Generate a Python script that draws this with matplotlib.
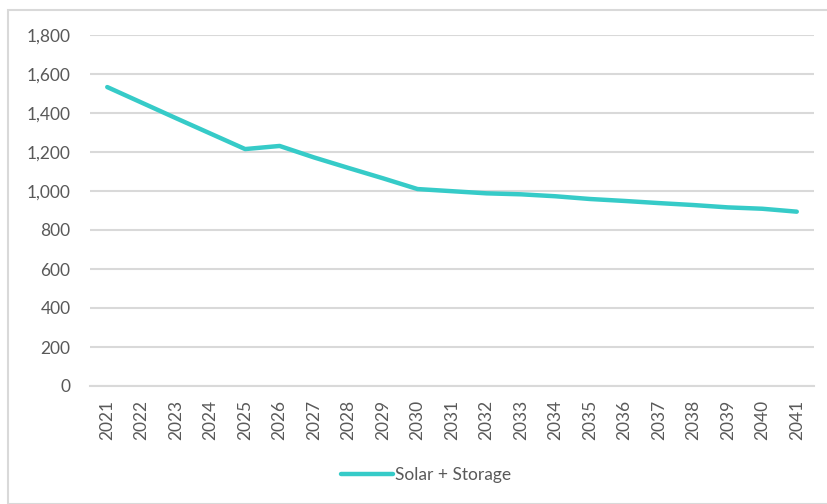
import matplotlib.pyplot as plt
from matplotlib.patches import Rectangle

years = [str(y) for y in range(2021, 2042)]
solar_storage = [1533, 1453, 1373, 1294, 1215, 1231, 1172, 1118, 1065, 1010,
                 999, 988, 983, 973, 959, 949, 938, 928, 916, 909, 894]
y_ticks = [0, 200, 400, 600, 800, 1000, 1200, 1400, 1600, 1800]

plt.rcParams['font.family'] = ['Lato', 'DejaVu Sans']
text_col = '#595959'
grid_col = '#D9D9D9'

fig = plt.figure(figsize=(8.28, 5.04), dpi=100)
W, H = 828, 504

# outer chart border
fig.patches.append(Rectangle((8 / W, 0), (W - 8) / W + 0.01, (H - 10) / H,
                             transform=fig.transFigure, fill=False,
                             edgecolor=grid_col, linewidth=1.5))

ax = fig.add_axes([90 / W, 1 - 386 / H, (814 - 90) / W, (386 - 35) / H])
x = list(range(len(years)))
ax.plot(x, solar_storage, color='#36CBC8', linewidth=3.2,
        solid_capstyle='round', label='Solar + Storage')

ax.set_xlim(-0.5, len(years) - 0.5)
ax.set_ylim(0, 1800)
ax.set_yticks(y_ticks)
ax.set_yticklabels([f'{v:,}' for v in y_ticks])
ax.set_xticks(x)
ax.set_xticklabels(years, rotation=90)
ax.tick_params(axis='both', length=0, colors=text_col, labelsize=12.5)
ax.tick_params(axis='y', pad=14)
ax.tick_params(axis='x', pad=10)
ax.grid(axis='y', color=grid_col, linewidth=1.5)
ax.set_axisbelow(True)
for s in ['top', 'right', 'left']:
    ax.spines[s].set_visible(False)
ax.spines['bottom'].set_color(grid_col)
ax.spines['bottom'].set_linewidth(1.5)

leg = fig.legend(loc='center', bbox_to_anchor=(426 / W, 1 - 475 / H),
                 frameon=False, fontsize=12.5, handlelength=3.0,
                 handletextpad=0.15)
for t in leg.get_texts():
    t.set_color(text_col)

fig.savefig('out.png', dpi=100)
